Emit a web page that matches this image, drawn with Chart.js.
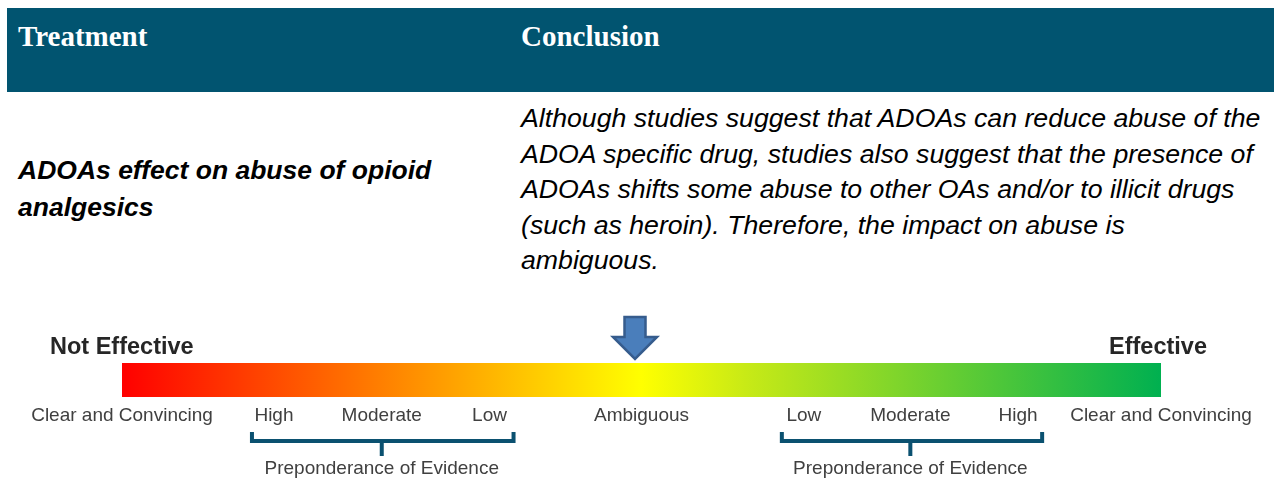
<!DOCTYPE html>
<html>
<head>
<meta charset="utf-8">
<script src="https://cdn.jsdelivr.net/npm/chart.js@4"></script>
<style>
body{margin:0;width:1276px;height:480px;background:#fff;position:relative;overflow:hidden;font-family:"Liberation Sans",Arial,sans-serif;}
.hdr{position:absolute;left:7px;top:8px;width:1267px;height:84px;background:#015470;}
.hdr span{position:absolute;top:13px;line-height:30px;font-family:"Liberation Serif","Times New Roman",serif;font-weight:bold;font-size:29px;color:#fff;}
.treat{position:absolute;left:18px;top:152px;font-size:26.5px;line-height:37px;font-weight:bold;font-style:italic;color:#000;}
.concl{position:absolute;left:521px;top:101px;font-size:26.7px;line-height:35.5px;font-style:italic;color:#000;}
#scale{position:absolute;left:0;top:300px;}
</style>
</head>
<body>
<div class="hdr"><span style="left:11px">Treatment</span><span style="left:514px">Conclusion</span></div>
<div class="treat">ADOAs effect on abuse of opioid<br>analgesics</div>
<div class="concl">Although studies suggest that ADOAs can reduce abuse of the<br>ADOA specific drug, studies also suggest that the presence of<br>ADOAs shifts some abuse to other OAs and/or to illicit drugs<br>(such as heroin). Therefore, the impact on abuse is<br>ambiguous.</div>
<canvas id="scale" width="1276" height="180"></canvas>
<script>
// Data

const scaleRange = [-4, 4];
const tickValues = [-4, -2.83, -2.0, -1.17, 0, 1.25, 2.07, 2.9, 4];
const tickLabels = ["Clear and Convincing","High","Moderate","Low","Ambiguous","Low","Moderate","High","Clear and Convincing"];
const arrowValue = -0.05;
const endLabels = ["Not Effective","Effective"];
// bracket groups: [first tick, last tick, middle tick]
const groups = [[1,3,2],[5,7,6]];
const groupLabel = "Preponderance of Evidence";

// Gradient bar + decorations

function barGradient(c){
const a = c.chart.chartArea;
if(!a) return "#ff0000";
const g = c.chart.ctx.createLinearGradient(a.left,0,a.right,0);
g.addColorStop(0,"#ff0000");
g.addColorStop(0.5,"#ffff00");
g.addColorStop(0.6,"#c8ea16");
g.addColorStop(1,"#00b050");
return g;
}

const decor = {
id:"decor",
afterDraw(chart){
const ctx = chart.ctx;
const a = chart.chartArea;
const x = chart.scales.x;

ctx.save();

// end labels
ctx.font = "bold 23.5px 'Liberation Sans', Arial";
ctx.fillStyle = "#262626";
ctx.textBaseline = "middle";
ctx.textAlign = "left";
ctx.fillText(endLabels[0], a.left-72, a.top-15);
ctx.textAlign = "right";
ctx.fillText(endLabels[1], a.right+46, a.top-15);

// arrow
const ax = x.getPixelForValue(arrowValue);
const tip = a.top-4;
ctx.beginPath();
ctx.moveTo(ax-10.5, tip-42);
ctx.lineTo(ax+10.5, tip-42);
ctx.lineTo(ax+10.5, tip-22);
ctx.lineTo(ax+22, tip-22);
ctx.lineTo(ax, tip);
ctx.lineTo(ax-22, tip-22);
ctx.lineTo(ax-10.5, tip-22);
ctx.closePath();
ctx.fillStyle = "#4a7ebb";
ctx.fill();
ctx.lineWidth = 2.5;
ctx.strokeStyle = "#365c8d";
ctx.stroke();

// brackets
ctx.strokeStyle = "#0b5170";
ctx.lineWidth = 4;
ctx.font = "19px 'Liberation Sans', Arial";
ctx.fillStyle = "#404040";
ctx.textAlign = "center";
groups.forEach(gr=>{
const x1 = x.getPixelForValue(tickValues[gr[0]])-24;
const x2 = x.getPixelForValue(tickValues[gr[1]])+26;
const xm = x.getPixelForValue(tickValues[gr[2]]);
const yb = a.bottom+44;
ctx.beginPath();
ctx.moveTo(x1+2, a.bottom+35);
ctx.lineTo(x1+2, yb);
ctx.lineTo(x2-2, yb);
ctx.lineTo(x2-2, a.bottom+35);
ctx.moveTo(xm, yb);
ctx.lineTo(xm, a.bottom+59);
ctx.stroke();
ctx.fillText(groupLabel, xm, a.bottom+72);
});

ctx.restore();
}
};

new Chart(document.getElementById("scale"),{
type:"bar",
data:{
labels:[""],
datasets:[{
data:[scaleRange],
backgroundColor:barGradient,
borderWidth:0,
borderSkipped:false,
barPercentage:1,
categoryPercentage:1
}]
},
options:{
indexAxis:"y",
responsive:false,
animation:false,
events:[],
layout:{padding:{top:63,left:122,right:115,bottom:0}},
plugins:{legend:{display:false},tooltip:{enabled:false}},
scales:{
y:{display:false},
x:{
min:scaleRange[0],
max:scaleRange[1],
grid:{display:false,drawTicks:false},
border:{display:false},
afterBuildTicks:(s)=>{ s.ticks = tickValues.map(v=>({value:v})); },
afterFit:(s)=>{ s.height = 83; },
ticks:{
autoSkip:false,
maxRotation:0,
minRotation:0,
padding:7,
color:"#404040",
font:{family:"'Liberation Sans', Arial",size:19},
callback:(v,i)=>tickLabels[i]
}
}
}
},
plugins:[decor]
});
</script>
</body>
</html>
